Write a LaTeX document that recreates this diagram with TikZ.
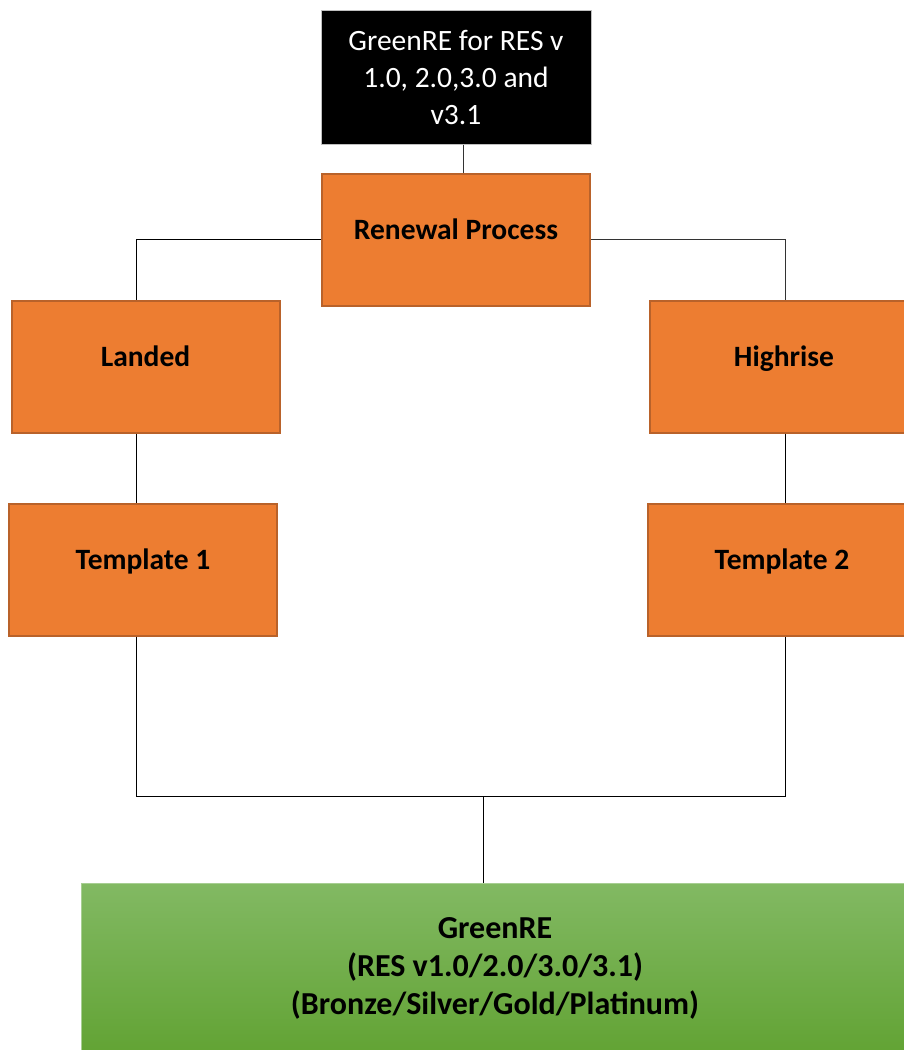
\documentclass[tikz,border=0pt]{standalone}
\usepackage{fontspec}
\setmainfont{Carlito}
\usepackage{tikz}
\usetikzlibrary{calc}
\definecolor{boxorange}{HTML}{ED7D31}
\definecolor{boxedge}{HTML}{B9622A}
\definecolor{greentop}{HTML}{82B963}
\definecolor{greenbot}{HTML}{62A334}
\tikzset{
% Three node styles: black title, orange steps, green result
black node/.style={rectangle,draw=gray!50,fill=black,text=white,minimum width=270pt,minimum height=134pt,align=center,inner sep=0pt,font=\fontsize{29.5}{37}\selectfont},
orange node/.style={rectangle,draw=boxedge,line width=2pt,fill=boxorange,minimum width=268pt,minimum height=132pt,inner sep=0pt,text height=20pt,text depth=21pt,font=\fontsize{29.5}{34}\selectfont\bfseries},
green node/.style={rectangle,draw=greentop!70!white,top color=greentop,bottom color=greenbot,minimum width=828pt,minimum height=170pt,align=center,inner sep=0pt,font=\fontsize{32}{38}\selectfont\bfseries}
}
\begin{document}
\begin{tikzpicture}[x=1pt,y=-1pt,line width=1pt]
\useasboundingbox (0,0) rectangle (904,1050);
\clip (0,0) rectangle (904,1050);
% The boxes
\node(top)[black node] at (456,77) {GreenRE for RES v\\1.0, 2.0,3.0 and\\v3.1};
\node(renew)[orange node] at (456,239.5) {Renewal Process};
\node(landed)[orange node] at (145.5,366.5) {Landed};
\node(high)[orange node] at (784,366.5) {Highrise};
\node(tmpl1)[orange node] at (143,569.5) {Template 1};
\node(tmpl2)[orange node] at (782,569.5) {Template 2};
\node(green)[green node] at (495,968) {GreenRE\\(RES v1.0/2.0/3.0/3.1)\\(Bronze/Silver/Gold/Platinum)};
% Columns of the connectors
\coordinate(lx) at (136,0);
\coordinate(rx) at (785,0);
\coordinate(join) at (483,796);
% The connectors
\draw[black!80] ([xshift=7pt]top.south) -- ([xshift=7pt]renew.north);
\draw (renew.west) -| (lx |- landed.north);
\draw[black!80] (renew.east) -| (rx |- high.north);
\draw (lx |- landed.south) -- (lx |- tmpl1.north);
\draw (rx |- high.south) -- (rx |- tmpl2.north);
\draw (lx |- tmpl1.south) |- (join) -| (rx |- tmpl2.south);
\draw (join) -- (join |- green.north);
\end{tikzpicture}
\end{document}
